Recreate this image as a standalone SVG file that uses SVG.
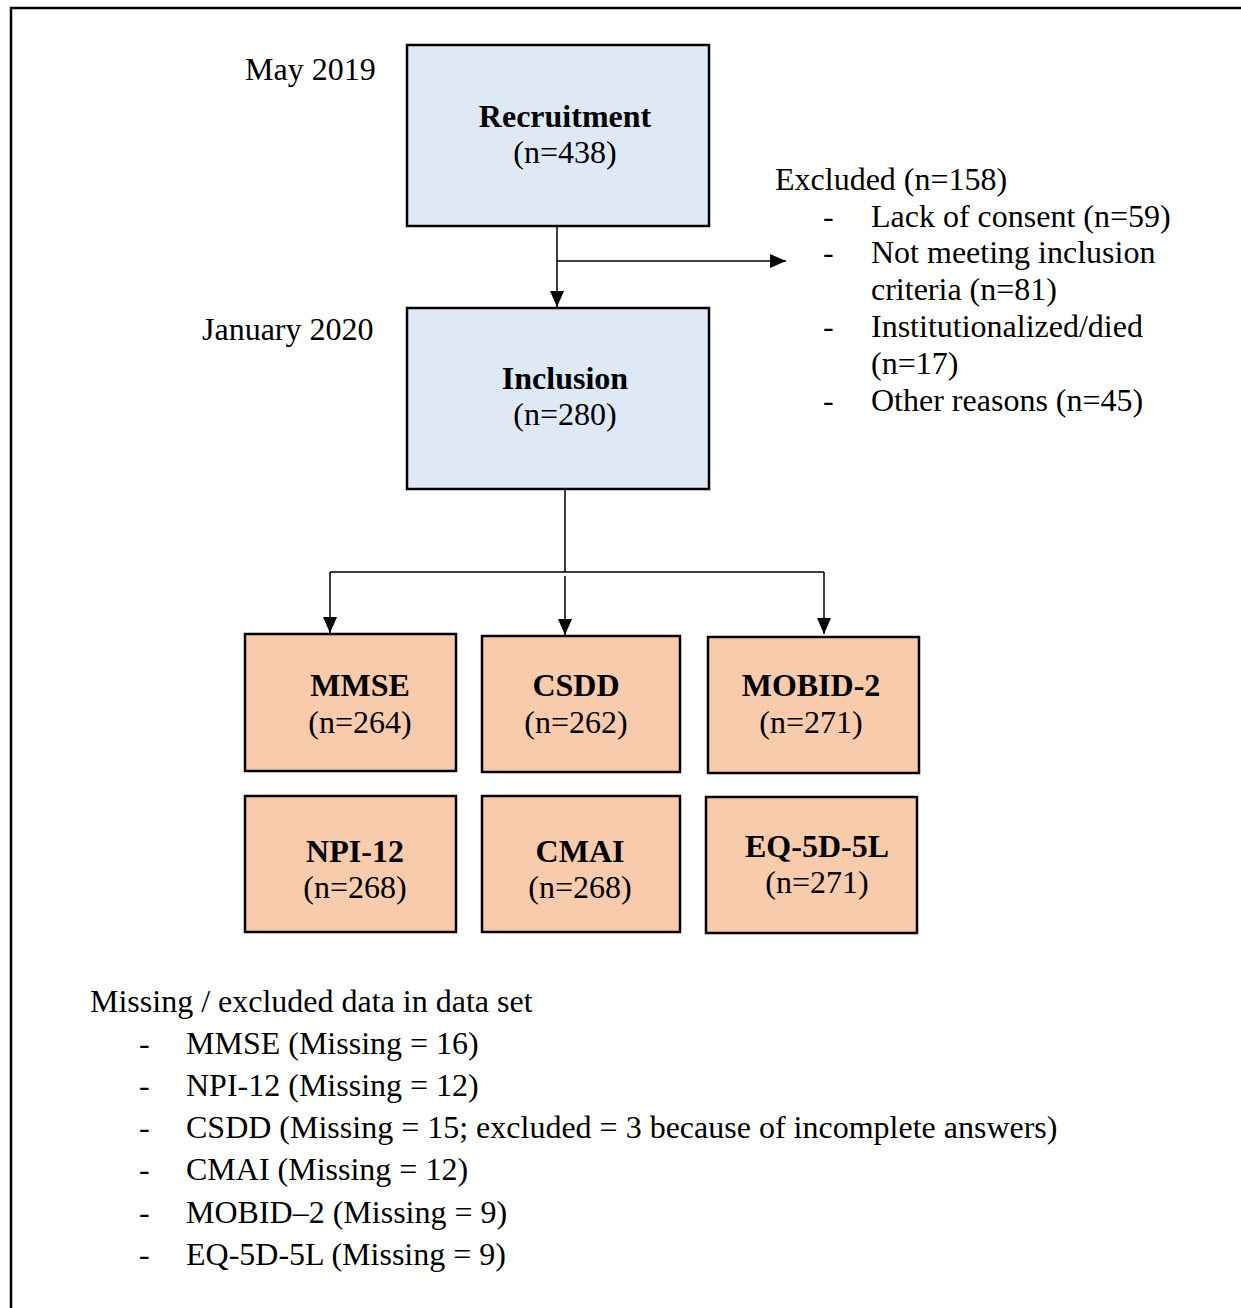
<svg xmlns="http://www.w3.org/2000/svg" width="1241" height="1308" viewBox="0 0 1241 1308">
<defs>
<style>
text{font-family:"Liberation Serif","Times New Roman",serif;font-size:32px;fill:#000}
.b{font-weight:bold}
.c{text-anchor:middle}
.blue{fill:#DEE9F5;stroke:#000;stroke-width:2.5}
.org{fill:#F8CBAD;stroke:#000;stroke-width:2.5}
.ln{stroke:#000;stroke-width:1.5;fill:none}
</style>
<marker id="ah2" viewBox="0 0 16 14" refX="16" refY="7" markerWidth="16" markerHeight="14" markerUnits="userSpaceOnUse" orient="auto">
<path d="M0,0 L16,7 L0,14 Z" fill="#000"/>
</marker>
</defs>
<rect width="1241" height="1308" fill="#fff"/>
<path d="M11,1308 V8 H1241" fill="none" stroke="#000" stroke-width="2.5"/>

<text x="245" y="80">May 2019</text>
<text x="202" y="340">January 2020</text>

<g id="recruitment">
<rect class="blue" x="407" y="45" width="302" height="181"/>
<text class="b c" x="565" y="127">Recruitment</text>
<text class="c" x="565" y="163">(n=438)</text>
</g>
<g id="inclusion">
<rect class="blue" x="407" y="308" width="302" height="181"/>
<text class="b c" x="565" y="389">Inclusion</text>
<text class="c" x="565" y="425">(n=280)</text>
</g>

<g id="excluded">
<text x="775" y="190">Excluded (n=158)</text>
<text x="823" y="227">-</text><text x="871" y="227">Lack of consent (n=59)</text>
<text x="823" y="263">-</text><text x="871" y="263">Not meeting inclusion</text>
<text x="871" y="300">criteria (n=81)</text>
<text x="823" y="337">-</text><text x="871" y="337">Institutionalized/died</text>
<text x="871" y="374">(n=17)</text>
<text x="823" y="411">-</text><text x="871" y="411">Other reasons (n=45)</text>
</g>

<g id="mmse">
<rect class="org" x="245" y="634" width="211" height="137"/>
<text class="b c" x="360" y="696">MMSE</text>
<text class="c" x="360" y="733">(n=264)</text>
</g>
<g id="csdd">
<rect class="org" x="482" y="636" width="198" height="136"/>
<text class="b c" x="576" y="696">CSDD</text>
<text class="c" x="576" y="733">(n=262)</text>
</g>
<g id="mobid2">
<rect class="org" x="708" y="637" width="211" height="136"/>
<text class="b c" x="811" y="696">MOBID-2</text>
<text class="c" x="811" y="733">(n=271)</text>
</g>
<g id="npi12">
<rect class="org" x="245" y="796" width="211" height="136"/>
<text class="b c" x="355" y="862">NPI-12</text>
<text class="c" x="355" y="898">(n=268)</text>
</g>
<g id="cmai">
<rect class="org" x="482" y="796" width="198" height="136"/>
<text class="b c" x="580" y="862">CMAI</text>
<text class="c" x="580" y="898">(n=268)</text>
</g>
<g id="eq5d5l">
<rect class="org" x="706" y="797" width="211" height="136"/>
<text class="b c" x="817" y="857">EQ-5D-5L</text>
<text class="c" x="817" y="893">(n=271)</text>
</g>

<g id="connectors">
<line class="ln" x1="557" y1="226" x2="557" y2="307" marker-end="url(#ah2)"/>
<line class="ln" x1="557" y1="261" x2="786" y2="261" marker-end="url(#ah2)"/>
<line class="ln" x1="565" y1="489" x2="565" y2="572"/>
<line class="ln" x1="330" y1="572" x2="824" y2="572"/>
<line class="ln" x1="330" y1="572" x2="330" y2="633" marker-end="url(#ah2)"/>
<line class="ln" x1="565" y1="576" x2="565" y2="635" marker-end="url(#ah2)"/>
<line class="ln" x1="824" y1="572" x2="824" y2="634" marker-end="url(#ah2)"/>
</g>

<g id="missing">
<text x="90" y="1012">Missing / excluded data in data set</text>
<text x="139" y="1054">-</text><text x="186" y="1054">MMSE (Missing = 16)</text>
<text x="139" y="1096">-</text><text x="186" y="1096">NPI-12 (Missing = 12)</text>
<text x="139" y="1138">-</text><text x="186" y="1138">CSDD (Missing = 15; excluded = 3 because of incomplete answers)</text>
<text x="139" y="1180">-</text><text x="186" y="1180">CMAI (Missing = 12)</text>
<text x="139" y="1223">-</text><text x="186" y="1223">MOBID–2 (Missing = 9)</text>
<text x="139" y="1265">-</text><text x="186" y="1265">EQ-5D-5L (Missing = 9)</text>
</g>
</svg>
